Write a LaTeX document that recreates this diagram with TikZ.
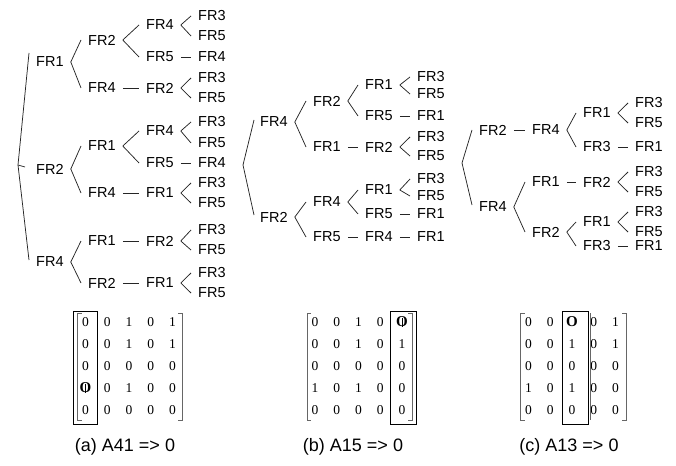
\documentclass[tikz,border=0pt]{standalone}
\usepackage{fontspec}
\setmainfont{Liberation Sans}
\newfontfamily\mxfont{Liberation Serif}
\usetikzlibrary{calc}
\tikzset{
  fr/.style={anchor=west, inner sep=0pt, font=\fontsize{14.5}{17}\selectfont},
  conn/.style={line width=0.75pt, black!85},
  mx/.style={inner sep=0pt, font=\mxfont\fontsize{13.5}{16}\selectfont},
  mxbold/.style={inner sep=0pt, font=\mxfont\bfseries\fontsize{15}{16}\selectfont},
  mxbar/.style={line width=0.8pt, black},
  mxbr/.style={line width=0.7pt, black!60},
  mxbox/.style={line width=0.9pt, black},
  capt/.style={inner sep=0pt, font=\fontsize{18}{21}\selectfont},
}
\newcommand\trbr[2]{\draw[conn] ($(#1.east)+(7,0)$) -- ($(#2.west)+(-7,0)$);}
\newcommand\trdash[2]{\draw[conn,shorten <=7pt,shorten >=7pt] (#1.east) -- (#2.west);}
\begin{document}
\begin{tikzpicture}[x=1pt,y=-1pt]
\useasboundingbox (0,0) rectangle (676,465);
% ---------------- tree (a)
\node[fr] (a1) at (36,62) {FR1};
\node[fr] (a2) at (36,169) {FR2};
\node[fr] (a3) at (36,262) {FR4};
\node[fr] (a11) at (88,40) {FR2};
\node[fr] (a12) at (88,88) {FR4};
\node[fr] (a111) at (146,25) {FR4};
\node[fr] (a112) at (146,57) {FR5};
\node[fr] (a1111) at (198,16) {FR3};
\node[fr] (a1112) at (198,36) {FR5};
\node[fr] (a1121) at (198,57) {FR4};
\node[fr] (a121) at (146,88) {FR2};
\node[fr] (a1211) at (198,78) {FR3};
\node[fr] (a1212) at (198,98) {FR5};
\node[fr] (a21) at (88,146) {FR1};
\node[fr] (a22) at (88,193) {FR4};
\node[fr] (a211) at (146,131) {FR4};
\node[fr] (a2111) at (198,122) {FR3};
\node[fr] (a2112) at (198,143) {FR5};
\node[fr] (a212) at (146,163) {FR5};
\node[fr] (a2121) at (198,163) {FR4};
\node[fr] (a221) at (146,193) {FR1};
\node[fr] (a2211) at (198,183) {FR3};
\node[fr] (a2212) at (198,203) {FR5};
\node[fr] (a31) at (88,241) {FR1};
\node[fr] (a311) at (146,241) {FR2};
\node[fr] (a3111) at (198,230) {FR3};
\node[fr] (a3112) at (198,250) {FR5};
\node[fr] (a32) at (88,283) {FR2};
\node[fr] (a321) at (146,283) {FR1};
\node[fr] (a3211) at (198,273) {FR3};
\node[fr] (a3212) at (198,293) {FR5};
\coordinate (ar) at (18,165);
\draw[conn] (ar) -- ($(a1.west)+(-7,-9)$);
\draw[conn] (ar) -- ($(a2.west)+(-11,-2)$);
\draw[conn] (ar) -- ($(a3.west)+(-7,-2)$);
\trbr{a1}{a11} \trbr{a1}{a12}
\trbr{a11}{a111} \trbr{a11}{a112}
\trbr{a111}{a1111} \trbr{a111}{a1112}
\trdash{a112}{a1121}
\trdash{a12}{a121}
\trbr{a121}{a1211} \trbr{a121}{a1212}
\trbr{a2}{a21} \trbr{a2}{a22}
\trbr{a21}{a211} \trbr{a21}{a212}
\trbr{a211}{a2111} \trbr{a211}{a2112}
\trdash{a212}{a2121}
\trdash{a22}{a221}
\trbr{a221}{a2211} \trbr{a221}{a2212}
\trbr{a3}{a31} \trbr{a3}{a32}
\trdash{a31}{a311} \trbr{a311}{a3111} \trbr{a311}{a3112}
\trdash{a32}{a321} \trbr{a321}{a3211} \trbr{a321}{a3212}
% ---------------- tree (b)
\node[fr] (b1) at (260,122) {FR4};
\node[fr] (b2) at (260,217) {FR2};
\node[fr] (b11) at (313,101) {FR2};
\node[fr] (b12) at (313,147) {FR1};
\node[fr] (b111) at (365,85) {FR1};
\node[fr] (b1111) at (417,77) {FR3};
\node[fr] (b1112) at (417,94) {FR5};
\node[fr] (b112) at (365,116) {FR5};
\node[fr] (b1121) at (417,116) {FR1};
\node[fr] (b121) at (365,147) {FR2};
\node[fr] (b1211) at (417,137) {FR3};
\node[fr] (b1212) at (417,156) {FR5};
\node[fr] (b21) at (313,202) {FR4};
\node[fr] (b22) at (313,237) {FR5};
\node[fr] (b211) at (365,190) {FR1};
\node[fr] (b2111) at (417,179) {FR3};
\node[fr] (b2112) at (417,196) {FR5};
\node[fr] (b212) at (365,214) {FR5};
\node[fr] (b2121) at (417,214) {FR1};
\node[fr] (b221) at (365,237) {FR4};
\node[fr] (b2211) at (417,237) {FR1};
\coordinate (br) at (243,165);
\draw[conn] (br) -- ($(b1.west)+(-6,-2)$);
\draw[conn] (br) -- ($(b2.west)+(-6,-2)$);
\trbr{b1}{b11} \trbr{b1}{b12}
\trbr{b11}{b111} \trbr{b11}{b112}
\trbr{b111}{b1111} \trbr{b111}{b1112}
\trdash{b112}{b1121}
\trdash{b12}{b121}
\trbr{b121}{b1211} \trbr{b121}{b1212}
\trbr{b2}{b21} \trbr{b2}{b22}
\trbr{b21}{b211} \trbr{b21}{b212}
\trbr{b211}{b2111} \trbr{b211}{b2112}
\trdash{b212}{b2121}
\trdash{b22}{b221} \trdash{b221}{b2211}
% ---------------- tree (c)
\node[fr] (c1) at (479,130) {FR2};
\node[fr] (c11) at (532,130) {FR4};
\node[fr] (c111) at (583,113) {FR1};
\node[fr] (c1111) at (635,103) {FR3};
\node[fr] (c1112) at (635,123) {FR5};
\node[fr] (c112) at (583,147) {FR3};
\node[fr] (c1121) at (635,147) {FR1};
\node[fr] (c2) at (479,207) {FR4};
\node[fr] (c21) at (532,182) {FR1};
\node[fr] (c211) at (583,182) {FR2};
\node[fr] (c2111) at (635,172) {FR3};
\node[fr] (c2112) at (635,192) {FR5};
\node[fr] (c22) at (532,232) {FR2};
\node[fr] (c221) at (583,222) {FR1};
\node[fr] (c2211) at (635,212) {FR3};
\node[fr] (c2212) at (635,232) {FR5};
\node[fr] (c222) at (583,246) {FR3};
\node[fr] (c2221) at (635,246) {FR1};
\coordinate (cr) at (462,163);
\draw[conn] (cr) -- ($(c1.west)+(-7,0)$);
\draw[conn] (cr) -- ($(c2.west)+(-7,-2)$);
\trdash{c1}{c11}
\trbr{c11}{c111} \trbr{c11}{c112}
\trbr{c111}{c1111} \trbr{c111}{c1112}
\trdash{c112}{c1121}
\trbr{c2}{c21} \trbr{c2}{c22}
\trdash{c21}{c211}
\trbr{c211}{c2111} \trbr{c211}{c2112}
\trbr{c22}{c221} \trbr{c22}{c222}
\trbr{c221}{c2211} \trbr{c221}{c2212}
\trdash{c222}{c2221}
% ---------------- matrices
% (a)
\foreach \r/\row in {1/{0,0,1,0,1},2/{0,0,1,0,1},3/{0,0,0,0,0},4/{{},0,1,0,0},5/{0,0,0,0,0}}{
  \foreach \v [count=\c] in \row {
    \node[mx] (ma-\r-\c) at ({85.5+21.75*(\c-1)},{322+22*(\r-1)}) {\v};
  }
}
\node[mxbold] (maO) at (ma-4-1.center) {O};
\draw[mxbar] ($(maO.center)+(0,-4.5)$) -- ($(maO.center)+(0,4.5)$);
\draw[mxbr] (81.5,313) -- (77.5,313) -- (77.5,420) -- (81.5,420);
\draw[mxbr] (178,313) -- (182,313) -- (182,420) -- (178,420);
\draw[mxbox] (73.5,311) rectangle (97.5,424);
\node[capt] (capa) at (125,447) {(a) A41 => 0};
% (b)
\foreach \r/\row in {1/{0,0,1,0,{}},2/{0,0,1,0,1},3/{0,0,0,0,0},4/{1,0,1,0,0},5/{0,0,0,0,0}}{
  \foreach \v [count=\c] in \row {
    \node[mx] (mb-\r-\c) at ({315+21.75*(\c-1)},{322+22*(\r-1)}) {\v};
  }
}
\node[mxbold] (mbO) at (mb-1-5.center) {O};
\draw[mxbar] ($(mbO.center)+(0,-4.5)$) -- ($(mbO.center)+(0,4.5)$);
\draw[mxbr] (311,313) -- (307,313) -- (307,420) -- (311,420);
\draw[mxbr] (408,313) -- (412,313) -- (412,420) -- (408,420);
\draw[mxbox] (390,311) rectangle (416,424);
\node[capt] (capb) at (353,447) {(b) A15 => 0};
% (c)
\foreach \r/\row in {1/{0,0,{},0,1},2/{0,0,1,0,1},3/{0,0,0,0,0},4/{1,0,1,0,0},5/{0,0,0,0,0}}{
  \foreach \v [count=\c] in \row {
    \node[mx] (mc-\r-\c) at ({528.5+21.75*(\c-1)},{322+22*(\r-1)}) {\v};
  }
}
\node[mxbold] (mcO) at (mc-1-3.center) {O};
\draw[mxbr] (524.5,313) -- (520.5,313) -- (520.5,420) -- (524.5,420);
\draw[mxbr] (622,313) -- (626,313) -- (626,420) -- (622,420);
\draw[mxbox] (562,311) rectangle (588,424);
\draw[mxbr] (590.5,313) -- (590.5,420);
\node[capt] (capc) at (569,447) {(c) A13 => 0};
\end{tikzpicture}
\end{document}
